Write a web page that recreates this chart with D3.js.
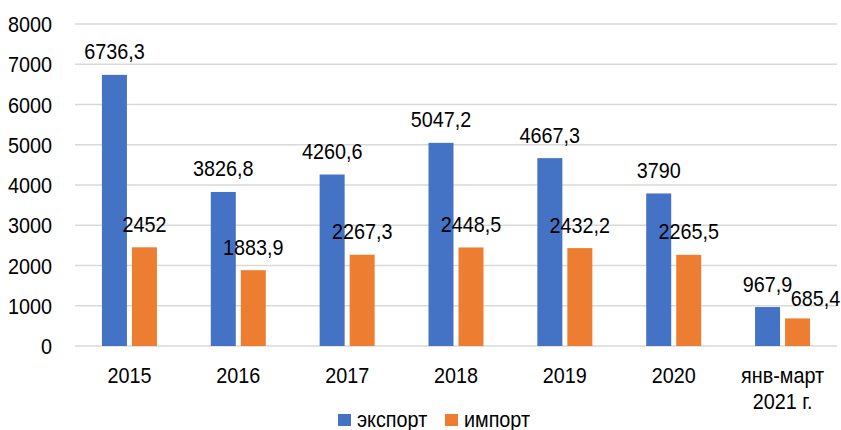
<!DOCTYPE html>
<html><head><meta charset="utf-8">
<script src="https://cdn.jsdelivr.net/npm/d3@7"></script>
<style>body{margin:0;background:#fff;}text{font-family:"Liberation Sans",Arial,sans-serif;}</style>
</head><body><svg id="c" width="841" height="430"></svg>
<script>
const categories = [["2015"],["2016"],["2017"],["2018"],["2019"],["2020"],["янв-март","2021 г."]];
const exportVals = [6736.3, 3826.8, 4260.6, 5047.2, 4667.3, 3790, 967.9];
const importVals = [2452, 1883.9, 2267.3, 2448.5, 2432.2, 2265.5, 685.4];
const seriesNames = ["экспорт","импорт"];
const colors = ["#4472C4","#ED7D31"];
const yTicks = [0,1000,2000,3000,4000,5000,6000,7000,8000];

const svg = d3.select("#c");
const m = {l:75, r:4, t:24, b:84};
const W = 841, H = 430;
const FS = 22, SX = 0.9;
const x = d3.scaleBand().domain(d3.range(categories.length)).range([m.l, W-m.r]).paddingInner(0).paddingOuter(0);
const y = d3.scaleLinear().domain([0,8000]).range([H-m.b, m.t]);
const fmt = v => String(v).replace(".", ",");

function label(parent, tx, ty, str, anchor) {
  return parent.append("text")
    .attr("transform", `translate(${tx},${ty}) scale(${SX},1)`)
    .attr("text-anchor", anchor || "middle")
    .attr("font-size", FS).attr("fill", "#000").text(str);
}

// grid
svg.append("g").selectAll("line").data(yTicks).join("line")
  .attr("x1", m.l).attr("x2", W-m.r)
  .attr("y1", d=>y(d)).attr("y2", d=>y(d))
  .attr("stroke", "#d9d9d9").attr("stroke-width", 1.5);

// y axis labels
const ya = svg.append("g");
yTicks.forEach(t => label(ya, 52, y(t) + 8, String(t), "end"));

const bw = 25, gap = 5;
const series = [exportVals, importVals];
series.forEach((vals, si) => {
  const off = si === 0 ? -(bw + gap/2) : gap/2;
  const g = svg.append("g");
  g.selectAll("rect").data(vals).join("rect")
    .attr("x", (d,i)=> x(i) + x.bandwidth()/2 + off)
    .attr("y", d=>y(d)).attr("width", bw).attr("height", d=>y(0)-y(d))
    .attr("fill", colors[si]);
  vals.forEach((d, i) => {
    const last = si === 1 && i === vals.length - 1;
    label(g, x(i) + x.bandwidth()/2 + off + bw/2 + (last ? 18 : 0), y(d) - (last ? 12 : 15.5), fmt(d));
  });
});

// category labels
const cg = svg.append("g");
categories.forEach((lines, i) => {
  lines.forEach((ln, k) => label(cg, x(i)+x.bandwidth()/2, 383 + k*26, ln));
});

// legend
const lg = svg.append("g");
const lx = [338, 445];
seriesNames.forEach((n, i) => {
  lg.append("rect").attr("x", lx[i]).attr("y", 414).attr("width", 13).attr("height", 12).attr("fill", colors[i]);
  label(lg, lx[i]+19, 427, n, "start");
});
</script></body></html>
